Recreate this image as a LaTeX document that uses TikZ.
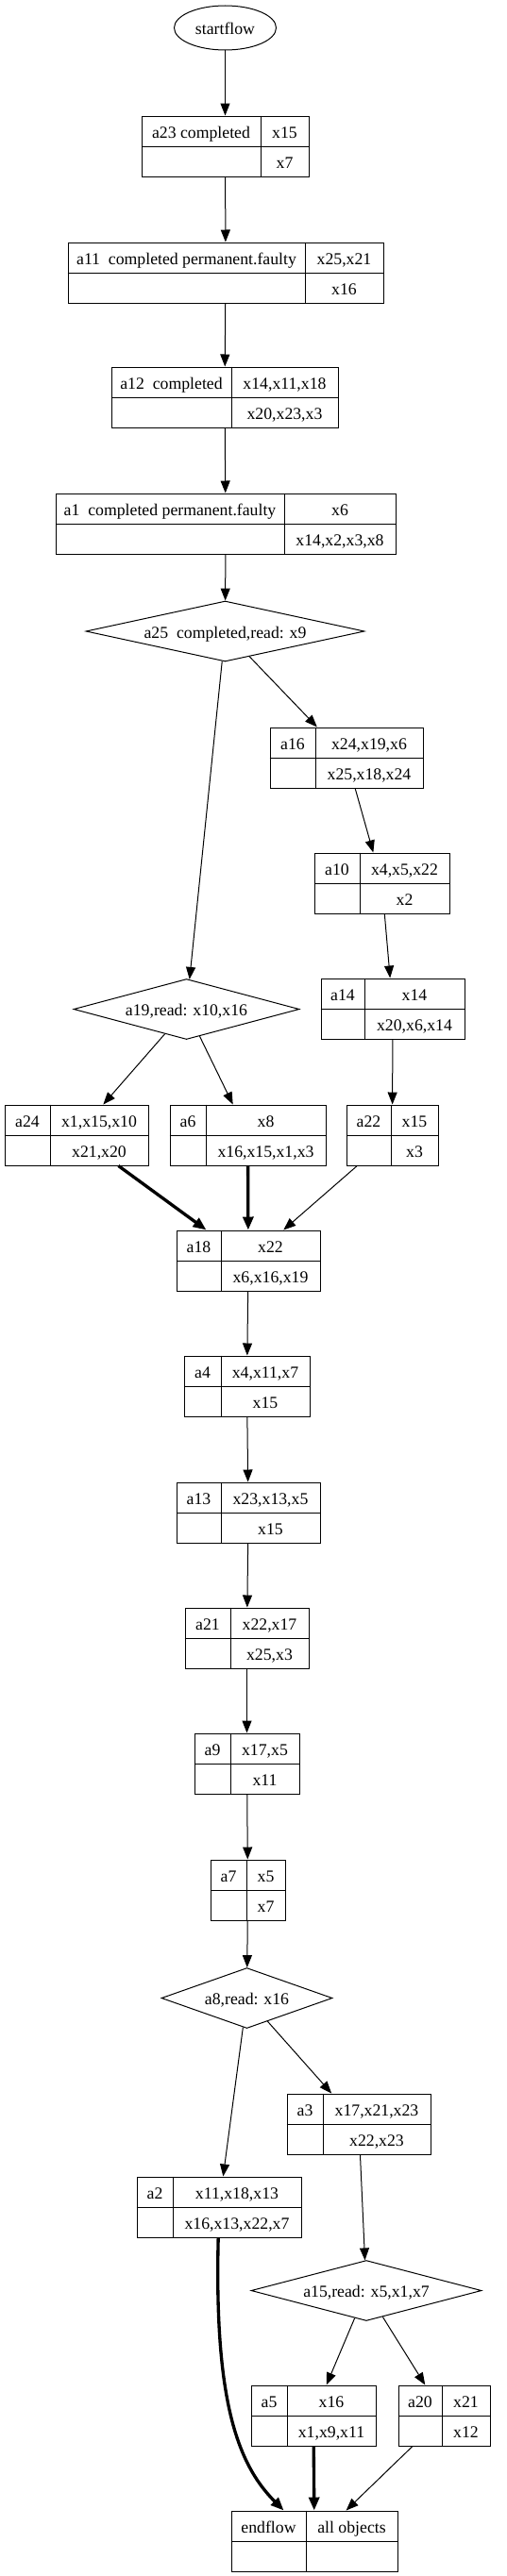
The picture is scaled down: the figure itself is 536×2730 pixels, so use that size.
\documentclass[tikz,border=0pt]{standalone}
\usepackage{fontspec}
\setmainfont{Liberation Serif}
\usetikzlibrary{shapes.geometric,arrows.meta,calc}

\tikzset{
  recbox/.style={draw, rectangle, line width=0.75pt, minimum height=48pt, inner sep=0pt},
  cell/.style={line width=0.75pt},
  celltext/.style={anchor=base, inner sep=0pt, font=\fontsize{13.3}{16}\selectfont},
  decision/.style={draw, diamond, aspect=4, inner sep=0pt, line width=0.75pt,
    minimum height=48pt, text height=13pt, text depth=2pt, font=\fontsize{13.3}{16}\selectfont},
  startnode/.style={draw, ellipse, inner sep=0pt, line width=0.75pt,
    minimum width=81pt, minimum height=35.25pt, text height=13pt, text depth=2pt,
    font=\fontsize{13.3}{16}\selectfont},
  flow/.style={-{Triangle[length=9.75pt,width=7.5pt]}, line width=0.75pt},
  boldflow/.style={-{Triangle[length=10.5pt,width=8.25pt]}, line width=2.5pt},
}

% record: nome, x, y, larghezza, divisione, etichetta, sopra, sotto
\newcommand{\recnode}[8]{%
  \node[recbox, minimum width=#4*0.75pt] (#1) at (#2,#3) {};
  \draw[cell] (#1.west) -- (#1.east);
  \draw[cell] ($(#1.north west)+(#5,0)$) -- ($(#1.south west)+(#5,0)$);
  \node[celltext] (#1-a) at ($(#1.north west)+({#5/2},24)$) {#6};
  \node[celltext] (#1-b) at ($(#1.north west)+({(#4+#5)/2},24)$) {#7};
  \node[celltext] (#1-c) at ($(#1.north west)+({(#4+#5)/2},56)$) {#8};
}

\begin{document}
\begin{tikzpicture}[x=0.75pt,y=-0.75pt]
    \useasboundingbox (0,0) rectangle (536,2730);

    % Inizio
    \node[startnode] (startflow) at (238.5,29.5) {startflow};

    % Blocchi principali
    \recnode{a23}{238.5}{155}{177}{127}{a23 completed}{x15}{x7}
    \recnode{a11}{239}{289}{334}{252}{a11\ \ completed permanent.faulty}{x25,x21}{x16}
    \recnode{a12}{238}{421}{240}{128}{a12\ \ completed}{x14,x11,x18}{x20,x23,x3}
    \recnode{a1}{239}{555}{360}{243}{a1\ \ completed permanent.faulty}{x6}{x14,x2,x3,x8}

    % Ramo destro
    \recnode{a16}{367}{803}{162}{49}{a16}{x24,x19,x6}{x25,x18,x24}
    \recnode{a10}{404.5}{936}{143}{49}{a10}{x4,x5,x22}{x2}
    \recnode{a14}{416}{1069}{152}{47}{a14}{x14}{x20,x6,x14}

    % Livello a24 / a6 / a22
    \recnode{a24}{81}{1203}{152}{49}{a24}{x1,x15,x10}{x21,x20}
    \recnode{a6}{262.5}{1203}{165}{39}{a6}{x8}{x16,x15,x1,x3}
    \recnode{a22}{415.5}{1203}{97}{48}{a22}{x15}{x3}

    % Catena centrale
    \recnode{a18}{263}{1336}{152}{48}{a18}{x22}{x6,x16,x19}
    \recnode{a4}{261.5}{1469}{133}{40}{a4}{x4,x11,x7}{x15}
    \recnode{a13}{263}{1603}{152}{48}{a13}{x23,x13,x5}{x15}
    \recnode{a21}{261.5}{1736}{131}{49}{a21}{x22,x17}{x25,x3}
    \recnode{a9}{261.5}{1869}{111}{39}{a9}{x17,x5}{x11}
    \recnode{a7}{262.5}{2003}{79}{39}{a7}{x5}{x7}

    % Parte finale
    \recnode{a3}{380}{2251}{152}{39}{a3}{x17,x21,x23}{x22,x23}
    \recnode{a2}{232}{2339}{174}{39}{a2}{x11,x18,x13}{x16,x13,x22,x7}
    \recnode{a5}{332}{2560}{132}{39}{a5}{x16}{x1,x9,x11}
    \recnode{a20}{470.5}{2560}{97}{47}{a20}{x21}{x12}
    \recnode{endflow}{333}{2693}{176}{80}{endflow}{all objects}{}

    % Decisioni
    \node[decision, minimum width=221.25pt] (a25) at (238.5,669) {a25\ \ completed,read: x9};
    \node[decision, minimum width=179.25pt] (a19) at (197.5,1069.5) {a19,read: x10,x16};
    \node[decision, minimum width=135.75pt] (a8) at (261.5,2117.5) {a8,read: x16};
    \node[decision, minimum width=183pt] (a15) at (388,2427.5) {a15,read: x5,x1,x7};

    % Archi
    \draw[flow] (startflow) -- (a23);
    \draw[flow] (a23) -- (a11);
    \draw[flow] (a11) -- (a12);
    \draw[flow] (a12) -- (a1);
    \draw[flow] (a1) -- (a25);
    \draw[flow] (a25) -- (a19);
    \draw[flow] (a25) -- (a16);
    \draw[flow] (a16) -- (a10);
    \draw[flow] (a10) -- (a14);
    \draw[flow] (a19) -- (a24);
    \draw[flow] (a19) -- (a6);
    \draw[flow] (a14) -- (a22);
    \draw[boldflow] (a24) -- (a18);
    \draw[boldflow] (a6) -- (a18);
    \draw[flow] (a22) -- (a18);
    \draw[flow] (a18) -- (a4);
    \draw[flow] (a4) -- (a13);
    \draw[flow] (a13) -- (a21);
    \draw[flow] (a21) -- (a9);
    \draw[flow] (a9) -- (a7);
    \draw[flow] (a7) -- (a8);
    \draw[flow] (a8) -- (a2);
    \draw[flow] (a8) -- (a3);
    \draw[flow] (a3) -- (a15);
    \draw[flow] (a15) -- (a5);
    \draw[flow] (a15) -- (a20);
    \draw[boldflow] (a2) .. controls (227,2540) and (250,2610) .. (endflow);
    \draw[boldflow] (a5) -- (endflow);
    \draw[flow] (a20) -- (endflow);
\end{tikzpicture}
\end{document}
